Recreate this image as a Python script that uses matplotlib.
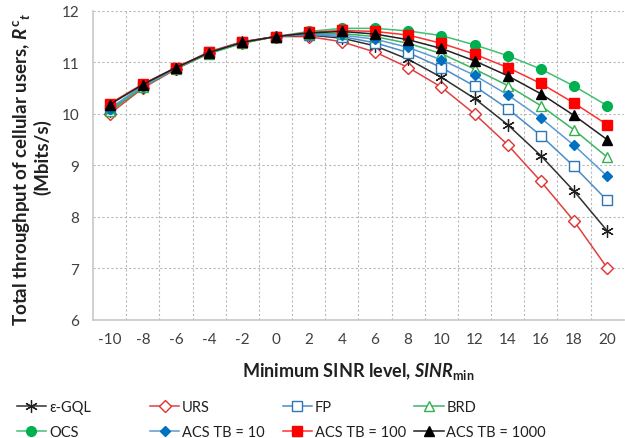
import matplotlib.pyplot as plt
import numpy as np

plt.rcParams['font.family'] = ['Lato', 'DejaVu Sans']
plt.rcParams['mathtext.fontset'] = 'custom'
plt.rcParams['mathtext.rm'] = 'Lato:bold'
plt.rcParams['mathtext.it'] = 'Lato:bold:italic'
plt.rcParams['mathtext.bf'] = 'Lato:bold'

sinr = [-10, -8, -6, -4, -2, 0, 2, 4, 6, 8, 10, 12, 14, 16, 18, 20]

gql = [10.05, 10.53, 10.88, 11.19, 11.39, 11.5, 11.53, 11.47, 11.32, 11.06, 10.71, 10.30, 9.79, 9.19, 8.50, 7.73]
urs = [10.0, 10.5, 10.87, 11.18, 11.38, 11.5, 11.5, 11.4, 11.2, 10.90, 10.52, 10.0, 9.40, 8.69, 7.92, 7.01]
fp = [10.08, 10.54, 10.89, 11.21, 11.4, 11.5, 11.54, 11.5, 11.38, 11.19, 10.90, 10.54, 10.10, 9.58, 8.98, 8.32]
brd = [10.05, 10.52, 10.88, 11.17, 11.37, 11.5, 11.56, 11.56, 11.5, 11.37, 11.17, 10.87, 10.55, 10.16, 9.69, 9.16]
ocs = [10.1, 10.55, 10.9, 11.18, 11.38, 11.5, 11.6, 11.66, 11.66, 11.61, 11.52, 11.34, 11.13, 10.87, 10.54, 10.16]
acs10 = [10.1, 10.54, 10.89, 11.2, 11.39, 11.5, 11.55, 11.53, 11.45, 11.29, 11.05, 10.75, 10.37, 9.92, 9.39, 8.79]
acs100 = [10.2, 10.58, 10.9, 11.2, 11.4, 11.5, 11.58, 11.62, 11.6, 11.53, 11.37, 11.16, 10.90, 10.59, 10.21, 9.79]
acs1000 = [10.18, 10.57, 10.9, 11.19, 11.39, 11.5, 11.57, 11.6, 11.55, 11.44, 11.27, 11.03, 10.74, 10.39, 9.97, 9.50]

fig = plt.figure(figsize=(6.25, 4.39), dpi=100)
ax = fig.add_axes([0.149, 0.269, 0.849, 0.704])

lines = {}
lines['urs'] = ax.plot(sinr, urs, color='#e04040', lw=1.1, marker='D', ms=6.5, mfc='white', mec='#e03030', mew=1.0, label='URS')[0]
lines['gql'] = ax.plot(sinr, gql, color='#303030', lw=1.1, marker=(6, 2, 0), ms=9, mec='#202020', mew=0.9, label='\u03b5-GQL')[0]
lines['fp'] = ax.plot(sinr, fp, color='#4a8cc8', lw=1.1, marker='s', ms=7, mfc='white', mec='#2e75b6', mew=1.0, label='FP')[0]
lines['brd'] = ax.plot(sinr, brd, color='#3cb464', lw=1.1, marker='^', ms=7.5, mfc='white', mec='#33b050', mew=1.0, label='BRD')[0]
lines['ocs'] = ax.plot(sinr, ocs, color='#40c070', lw=1.1, marker='o', ms=7, mfc='#00b050', mec='#00b050', label='OCS')[0]
lines['acs10'] = ax.plot(sinr, acs10, color='#5b9bd5', lw=1.1, marker='D', ms=5.5, mfc='#0070c0', mec='#0070c0', label='ACS TB = 10')[0]
lines['acs100'] = ax.plot(sinr, acs100, color='#ff3030', lw=1.1, marker='s', ms=6.5, mfc='#ff0000', mec='#ff0000', label='ACS TB = 100')[0]
lines['acs1000'] = ax.plot(sinr, acs1000, color='#202020', lw=1.1, marker='^', ms=7.5, mfc='black', mec='black', label='ACS TB = 1000')[0]

ax.set_xlim(-11, 21)
ax.set_ylim(6, 12)
ax.set_xticks(sinr)
ax.set_xticklabels([str(v) for v in sinr])
ax.set_xticks(np.arange(-9, 21, 2), minor=True)
ax.set_yticks(range(6, 13))
ax.tick_params(axis='both', which='both', length=0, labelsize=11, colors='#404040', pad=9)
ax.tick_params(axis='y', pad=10)
ax.grid(axis='y', which='major', color='#b8b8b8', linestyle=(0, (2, 2)), lw=0.8)
ax.grid(axis='x', which='minor', color='#b8b8b8', linestyle=(0, (2, 2)), lw=0.8)
ax.set_axisbelow(True)
for s in ['top', 'right']:
    ax.spines[s].set_visible(False)
for s in ['left', 'bottom']:
    ax.spines[s].set_color('#c8c8c8')
    ax.spines[s].set_linewidth(1.2)

# y label as two centred lines
fig.text(0.034, 0.613, 'Total throughput of cellular users, $\\mathit{R}^{\\mathrm{c}}{}_{t}$',
         rotation=90, ha='center', va='center', fontsize=13.5, fontweight='bold', color='#202020')
fig.text(0.068, 0.642, '(Mbits/s)', rotation=90, ha='center', va='center',
         fontsize=13.5, fontweight='bold', color='#202020')
ax.set_xlabel('Minimum SINR level, $\\mathit{SINR}_{\\mathrm{min}}$',
              fontsize=13, fontweight='bold', color='#202020', labelpad=10)

cols = [['gql', 'ocs'], ['urs', 'acs10'], ['fp', 'acs100'], ['brd', 'acs1000']]
xs = [0.027, 0.24, 0.452, 0.663]
for keys, x0 in zip(cols, xs):
    hs = [lines[k] for k in keys]
    leg = fig.legend(hs, [h.get_label() for h in hs], loc='upper left',
                     bbox_to_anchor=(x0, 0.086), frameon=False, fontsize=10.5,
                     handlelength=2.0, handletextpad=0.2, borderpad=0,
                     borderaxespad=0, labelspacing=0.75)
    for t in leg.get_texts():
        t.set_color('#202020')

fig.savefig('out.png', dpi=100)
